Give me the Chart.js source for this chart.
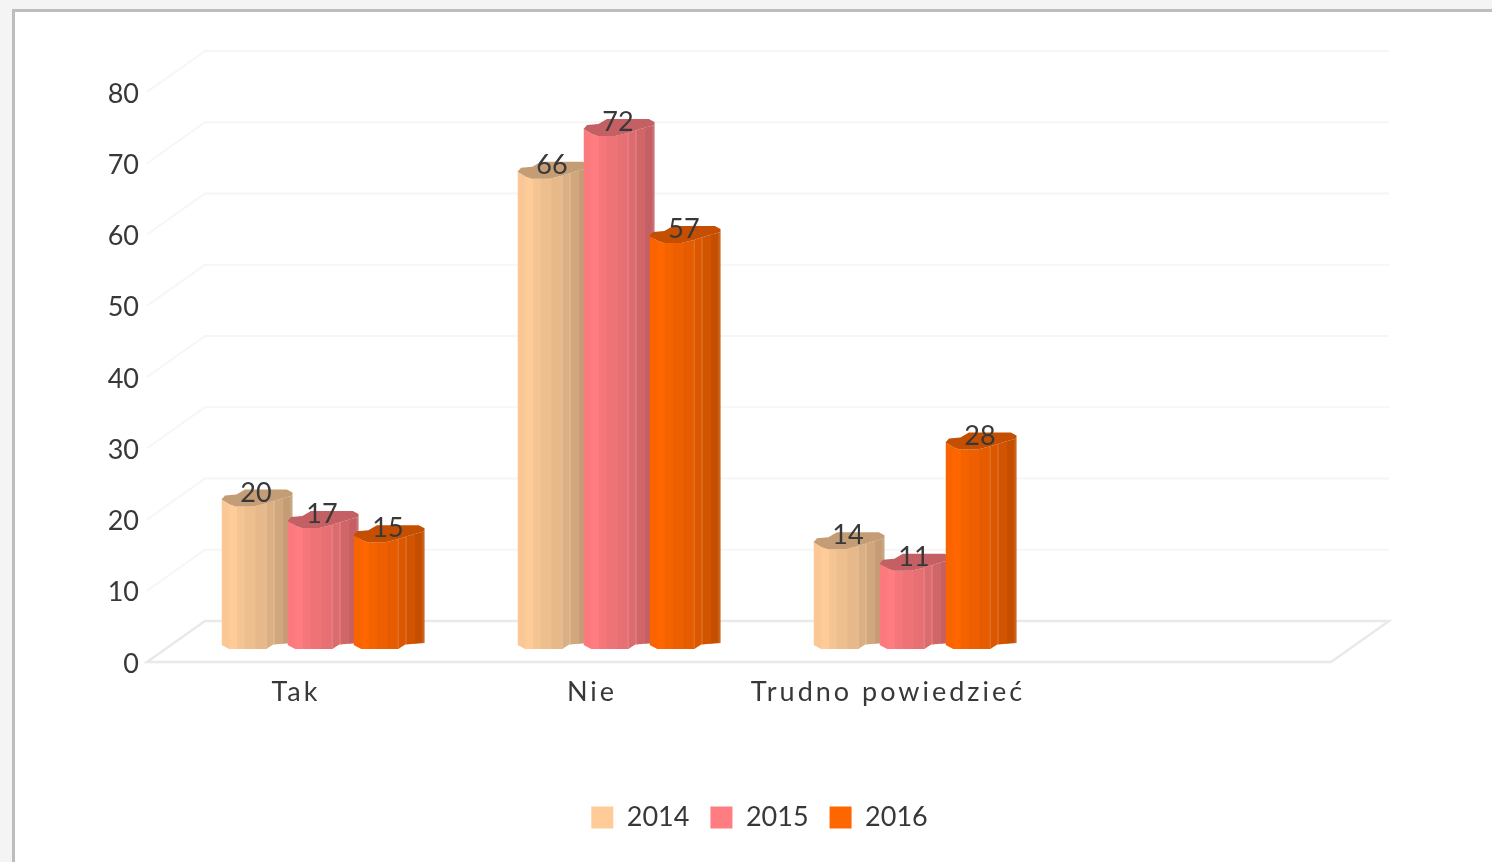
<!DOCTYPE html>
<html>
<head>
<meta charset="utf-8">
<title>Chart</title>
<script src="https://cdn.jsdelivr.net/npm/chart.js@4"></script>
<style>
  html, body { margin: 0; padding: 0; background: #f4f4f4; overflow: hidden; }
  #panel { position: absolute; left: 12px; top: 9px; right: 0; bottom: 0; background: #fff;
           border-left: 3px solid #bdbdbd; border-top: 3px solid #bdbdbd; }
  #myChart { position: absolute; left: 0; top: 0; }
</style>
</head>
<body>
<div id="panel"></div>
<canvas id="myChart" width="1492" height="862"></canvas>
<script>
// data
const categories = ['Tak', 'Nie', 'Trudno powiedzieć', ''];
const values2014 = [20, 66, 14, null];
const values2015 = [17, 72, 11, null];
const values2016 = [15, 57, 28, null];
const colors = ['#ffcc99', '#ff7c80', '#ff6600'];

const textColor = '#383838';
const fontName = 'Lato, Carlito, sans-serif';

// 3d look: how far the back wall sits from the front plane, and where the bars stand
const wallDx = 58, wallDy = -41;
const barDx = 28, barDy = -13, barW = 71;

// facets of the column, u goes 0..1 across the width
const facetEdges = [0, .11, .22, .33, .48, .63, .75, .87, 1];
const facetShade = [.98, 1, .96, .93, .9, .86, .82, .77];
const facetLines = [.63, .74, .98];
const topFront = [[0, -7], [.12, -2], [.2, 0], [.45, 0], [.62, -3], [.8, -7], [1, -11]];
const topBack = [[1, -14], [.92, -17], [.33, -17], [.21, -12], [.05, -11], [0, -7]];
const bottomFront = [[0, -4], [.11, 0], [.63, 0], [.73, -4.5], [1, -6]];

function shade(hex, k) {
  const n = parseInt(hex.slice(1), 16);
  const r = Math.round((n >> 16 & 255) * k);
  const g = Math.round((n >> 8 & 255) * k);
  const b = Math.round((n & 255) * k);
  return 'rgb(' + r + ',' + g + ',' + b + ')';
}

function drawColumn(ctx, cx, top, bottom, color) {
  const left = cx - barW / 2;
  const px = u => left + u * barW;

  ctx.save();
  ctx.beginPath();
  topFront.forEach(p => ctx.lineTo(px(p[0]), top + p[1]));
  bottomFront.slice().reverse().forEach(p => ctx.lineTo(px(p[0]), bottom + p[1]));
  ctx.closePath();
  ctx.clip();
  facetShade.forEach((k, i) => {
    ctx.fillStyle = shade(color, k);
    ctx.fillRect(px(facetEdges[i]), top - 30, (facetEdges[i + 1] - facetEdges[i]) * barW + 1, bottom - top + 40);
  });
  ctx.strokeStyle = 'rgba(255,255,255,.2)';
  ctx.lineWidth = 1;
  facetLines.forEach(u => {
    ctx.beginPath();
    ctx.moveTo(px(u), top - 30);
    ctx.lineTo(px(u), bottom + 5);
    ctx.stroke();
  });
  ctx.restore();

  // cap
  ctx.beginPath();
  topFront.concat(topBack).forEach(p => ctx.lineTo(px(p[0]), top + p[1]));
  ctx.closePath();
  ctx.fillStyle = shade(color, .77);
  ctx.fill();
}

const depthPlugin = {
  id: 'depth',
  afterLayout(chart) {
    // legend sits under the whole picture, not under the plot
    chart.legend.left += 94;
    chart.legend.right += 94;
  },
  beforeDatasetsDraw(chart) {
    const ctx = chart.ctx;
    const area = chart.chartArea;
    const y = chart.scales.y;

    ctx.save();
    // walls
    ctx.strokeStyle = '#f6f6f6';
    ctx.lineWidth = 2;
    y.ticks.forEach(t => {
      if (t.value === 0) return;
      const py = y.getPixelForValue(t.value);
      ctx.beginPath();
      ctx.moveTo(area.left, py);
      ctx.lineTo(area.left + wallDx, py + wallDy);
      ctx.lineTo(area.right + wallDx, py + wallDy);
      ctx.stroke();
    });
    // floor
    ctx.strokeStyle = '#e9e9e9';
    ctx.lineWidth = 2.5;
    ctx.beginPath();
    ctx.moveTo(area.left, area.bottom);
    ctx.lineTo(area.right, area.bottom);
    ctx.lineTo(area.right + wallDx, area.bottom + wallDy);
    ctx.lineTo(area.left + wallDx, area.bottom + wallDy);
    ctx.closePath();
    ctx.stroke();

    // columns and their value labels
    chart.data.datasets.forEach((ds, i) => {
      chart.getDatasetMeta(i).data.forEach((bar, j) => {
        if (ds.data[j] === null) return;
        drawColumn(ctx, bar.x + barDx, bar.y + barDy, bar.base + barDy, colors[i]);
      });
    });
    ctx.fillStyle = textColor;
    ctx.font = '27px ' + fontName;
    ctx.textAlign = 'center';
    ctx.textBaseline = 'middle';
    chart.data.datasets.forEach((ds, i) => {
      chart.getDatasetMeta(i).data.forEach((bar, j) => {
        if (ds.data[j] === null) return;
        ctx.fillText(ds.data[j], bar.x + barDx - 1, bar.y - 26.5);
      });
    });
    ctx.restore();

    // category labels are drawn after this hook and are spaced out
    ctx.letterSpacing = '3px';
    return false;
  },
  afterDraw(chart) {
    chart.ctx.letterSpacing = '0px';
  }
};

const myChart = new Chart(document.getElementById('myChart'), {
  type: 'bar',
  data: {
    labels: categories,
    datasets: [
      { label: '2014', data: values2014, backgroundColor: colors[0] },
      { label: '2015', data: values2015, backgroundColor: colors[1] },
      { label: '2016', data: values2016, backgroundColor: colors[2] }
    ]
  },
  options: {
    responsive: false,
    animation: false,
    layout: { padding: { left: 0, right: 161, top: 92, bottom: 21 } },
    datasets: { bar: { barPercentage: 1, categoryPercentage: 0.669 } },
    scales: {
      x: {
        grid: { display: false },
        border: { display: false },
        afterFit(scale) { scale.height = 121; },
        ticks: {
          z: 1,
          color: textColor,
          padding: 6,
          labelOffset: 1,
          autoSkip: false,
          maxRotation: 0,
          font: { family: fontName, size: 27 }
        }
      },
      y: {
        min: 0,
        max: 80,
        grid: { display: false, drawTicks: false },
        border: { display: false },
        afterFit(scale) { scale.width = 147; },
        ticks: {
          stepSize: 10,
          color: textColor,
          padding: 8,
          labelOffset: 2,
          font: { family: fontName, size: 27 }
        }
      }
    },
    plugins: {
      tooltip: { enabled: false },
      legend: {
        position: 'bottom',
        labels: {
          boxWidth: 22,
          boxHeight: 22,
          padding: 21,
          color: textColor,
          font: { family: fontName, size: 27 }
        }
      }
    }
  },
  plugins: [depthPlugin]
});
</script>
</body>
</html>
